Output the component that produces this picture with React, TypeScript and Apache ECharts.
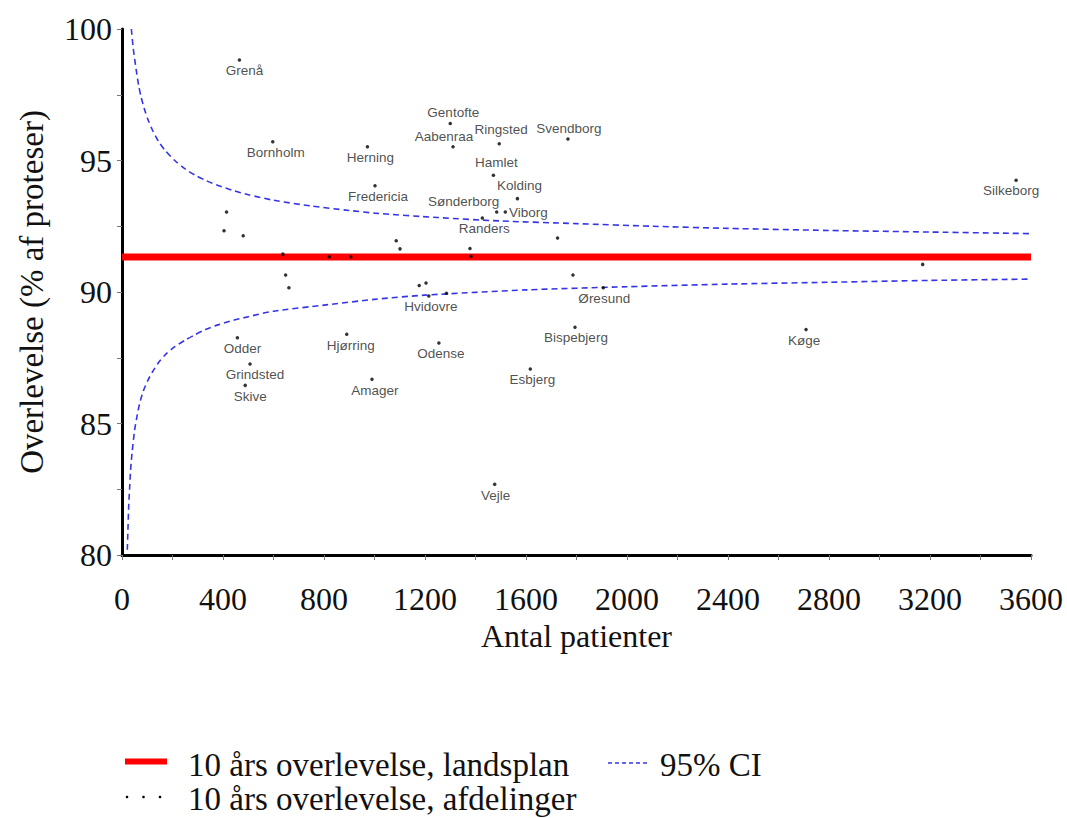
import React, { useEffect, useRef } from "react";
import * as echarts from "echarts";

// National 10-year survival (%)
const nationalLevel = 91.33;
const xRange = [0, 3600];

// Labelled departments
const hospitals = [
  "Grenå", "Bornholm", "Herning", "Fredericia", "Gentofte", "Aabenraa", "Ringsted",
  "Svendborg", "Hamlet", "Kolding", "Sønderborg", "Viborg", "Randers", "Silkeborg",
  "Øresund", "Hvidovre", "Bispebjerg", "Odense", "Køge", "Esbjerg", "Vejle",
  "Odder", "Hjørring", "Grindsted", "Amager", "Skive",
];
const patients = [
  465, 597, 972, 1002, 1300, 1311, 1494,
  1766, 1471, 1566, 1484, 1518, 1427, 3541,
  1906, 1215, 1794, 1255, 2709, 1617, 1476,
  457, 890, 507, 990, 488,
];
const survival = [
  98.82, 95.71, 95.52, 94.04, 96.41, 95.52, 95.64,
  95.82, 94.44, 93.55, 93.04, 93.04, 92.81, 94.25,
  90.16, 89.85, 88.66, 88.06, 88.57, 87.07, 82.69,
  88.26, 88.39, 87.26, 86.68, 86.45,
];

// Unlabelled departments
const otherPatients = [
  414, 404, 480, 637, 648, 661, 821, 906, 1086, 1101,
  1177, 1204, 1285, 1378, 1382, 1725, 1786, 3171,
];
const otherSurvival = [
  93.04, 92.33, 92.14, 91.44, 90.65, 90.16, 91.34, 91.34, 91.95, 91.64,
  90.25, 90.34, 89.95, 91.65, 91.36, 92.05, 90.65, 91.05,
];

// 95% CI curves
const upperX = [37, 45, 57, 66, 76, 88, 103, 120, 143, 170, 209, 250, 288, 330, 380, 440, 500, 600, 750, 900, 1000, 1250, 1500, 1800, 2100, 2400, 2800, 3200, 3600];
const upperY = [100.0, 99.23, 98.4, 97.85, 97.4, 96.98, 96.55, 96.17, 95.75, 95.39, 95.0, 94.68, 94.45, 94.25, 94.05, 93.86, 93.7, 93.49, 93.27, 93.1, 93.0, 92.83, 92.7, 92.6, 92.5, 92.42, 92.34, 92.28, 92.22];
const lowerX = [21, 24, 27, 30, 34, 40, 50, 60, 70, 85, 103, 120, 143, 170, 209, 250, 288, 330, 380, 440, 500, 600, 800, 1000, 1200, 1600, 2000, 2400, 2800, 3200, 3600];
const lowerY = [80.2, 81.1, 81.97, 82.5, 83.23, 83.9, 84.75, 85.3, 85.77, 86.25, 86.65, 86.95, 87.29, 87.6, 87.92, 88.17, 88.37, 88.57, 88.75, 88.92, 89.06, 89.27, 89.5, 89.72, 89.88, 90.08, 90.2, 90.3, 90.37, 90.44, 90.49];

const legendNames = [
  "10 års overlevelse, landsplan",
  "95% CI",
  "10 års overlevelse, afdelinger",
];
const xTitle = "Antal patienter";
const yTitle = "Overlevelse (% af proteser)";

// label placement (style)
const labelPlacement: Record<string, [string, number, number]> = {
  "Grenå": ["bottom", 5, 0],
  "Bornholm": ["bottom", 3, 0],
  "Herning": ["bottom", 3, 0],
  "Fredericia": ["bottom", 3, 0],
  "Odder": ["bottom", 5, 0],
  "Grindsted": ["bottom", 5, 0],
  "Skive": ["bottom", 5, 0],
  "Hjørring": ["bottom", 4, 0],
  "Amager": ["bottom", 3, 0],
  "Hvidovre": ["bottom", 2, 0],
  "Odense": ["bottom", 2, 0],
  "Esbjerg": ["bottom", 2, 0],
  "Vejle": ["bottom", 1, 0],
  "Bispebjerg": ["bottom", 1, 0],
  "Øresund": ["bottom", 1, 0],
  "Køge": ["bottom", -2, 0],
  "Silkeborg": ["bottom", -5, 0],
  "Randers": ["bottom", 2, 0],
  "Gentofte": ["top", 3, 0],
  "Aabenraa": ["top", -9, 0],
  "Ringsted": ["top", 2, -3],
  "Svendborg": ["top", 1, 0],
  "Hamlet": ["top", 3, -2],
  "Kolding": ["top", 2, -2],
  "Sønderborg": ["top", -33, 0],
  "Viborg": ["right", 0, 0],
};

const SERIF = "'Liberation Serif', 'Times New Roman', serif";
const SANS = "'Liberation Sans', Arial, sans-serif";

export default function App() {
  const ref = useRef<HTMLDivElement>(null);

  useEffect(() => {
    if (!ref.current) return;
    const chart = echarts.init(ref.current, null, { renderer: "svg" });

    const labelled = hospitals.map((n, i) => {
      const p = labelPlacement[n] || ["bottom", 0, 0];
      return {
        name: n,
        value: [patients[i], survival[i]],
        label: {
          show: true,
          formatter: n,
          position: p[0],
          offset: [p[1], p[2]],
          distance: 2,
          fontFamily: SANS,
          fontSize: 13.5,
          color: "#222",
        },
      };
    });
    const others = otherPatients.map((x, i) => ({
      name: "",
      value: [x, otherSurvival[i]],
      label: { show: false },
    }));

    const ciStyle = { color: "#3535e6", width: 1.6, type: [6, 4] };

    chart.setOption({
      animation: false,
      backgroundColor: "#fff",
      grid: { left: 122, right: 36, top: 29, bottom: 263 },
      xAxis: {
        type: "value",
        min: 0,
        max: 3600,
        interval: 400,
        name: xTitle,
        nameLocation: "middle",
        nameGap: 62,
        nameTextStyle: { fontFamily: SERIF, fontSize: 32, color: "#111" },
        axisLine: { show: true, onZero: false, lineStyle: { color: "#000", width: 3 } },
        axisTick: { show: true, inside: false, length: 5, lineStyle: { color: "#777", width: 1 } },
        minorTick: { show: true, splitNumber: 2, length: 5, lineStyle: { color: "#777", width: 1 } },
        axisLabel: {
          fontFamily: SERIF,
          fontSize: 32,
          color: "#111",
          margin: 28,
          formatter: (v: number) => String(v),
        },
        splitLine: { show: false },
      },
      yAxis: {
        type: "value",
        min: 80,
        max: 100,
        interval: 5,
        name: yTitle,
        nameLocation: "middle",
        nameGap: 74,
        nameRotate: 90,
        nameTextStyle: { fontFamily: SERIF, fontSize: 33, color: "#111" },
        axisLine: { show: true, onZero: false, lineStyle: { color: "#000", width: 3 } },
        axisTick: { show: true, inside: false, length: 5, lineStyle: { color: "#777", width: 1 } },
        minorTick: { show: true, splitNumber: 2, length: 5, lineStyle: { color: "#777", width: 1 } },
        axisLabel: { fontFamily: SERIF, fontSize: 32, color: "#111", margin: 10 },
        splitLine: { show: false },
      },
      series: [
        {
          name: legendNames[0],
          type: "line",
          data: [[xRange[0], nationalLevel], [xRange[1], nationalLevel]],
          symbol: "none",
          lineStyle: { color: "#ff0000", width: 7 },
          z: 2,
        },
        {
          name: legendNames[1],
          type: "line",
          data: upperX.map((x, i) => [x, upperY[i]]),
          symbol: "none",
          smooth: 0.25,
          lineStyle: ciStyle,
          z: 3,
        },
        {
          name: legendNames[1],
          type: "line",
          data: lowerX.map((x, i) => [x, lowerY[i]]),
          symbol: "none",
          smooth: 0.25,
          lineStyle: ciStyle,
          z: 3,
        },
        {
          name: legendNames[2],
          type: "scatter",
          symbol: "circle",
          symbolSize: 3.5,
          itemStyle: { color: "#000" },
          data: [...labelled, ...others],
          z: 5,
        },
      ],
      graphic: [
        { type: "rect", shape: { x: 125, y: 758.5, width: 42, height: 6 }, style: { fill: "#ff0000" } },
        { type: "text", x: 188, y: 765, style: { text: legendNames[0], font: `33px ${SERIF}`, fill: "#111", verticalAlign: "middle" } },
        { type: "line", shape: { x1: 608, y1: 763, x2: 649, y2: 763 }, style: { stroke: "#3535e6", lineWidth: 1.5, lineDash: [4, 3] } },
        { type: "text", x: 660, y: 765, style: { text: legendNames[1], font: `33px ${SERIF}`, fill: "#111", verticalAlign: "middle" } },
        { type: "circle", shape: { cx: 127, cy: 797, r: 1.3 }, style: { fill: "#000" } },
        { type: "circle", shape: { cx: 143.5, cy: 797, r: 1.3 }, style: { fill: "#000" } },
        { type: "circle", shape: { cx: 160, cy: 797, r: 1.3 }, style: { fill: "#000" } },
        { type: "text", x: 188, y: 799, style: { text: legendNames[2], font: `33px ${SERIF}`, fill: "#111", verticalAlign: "middle" } },
      ],
    });

    return () => chart.dispose();
  }, []);

  return (
    <div
      ref={ref}
      style={{ position: "fixed", left: 0, top: 0, width: 1067, height: 818 }}
    />
  );
}
